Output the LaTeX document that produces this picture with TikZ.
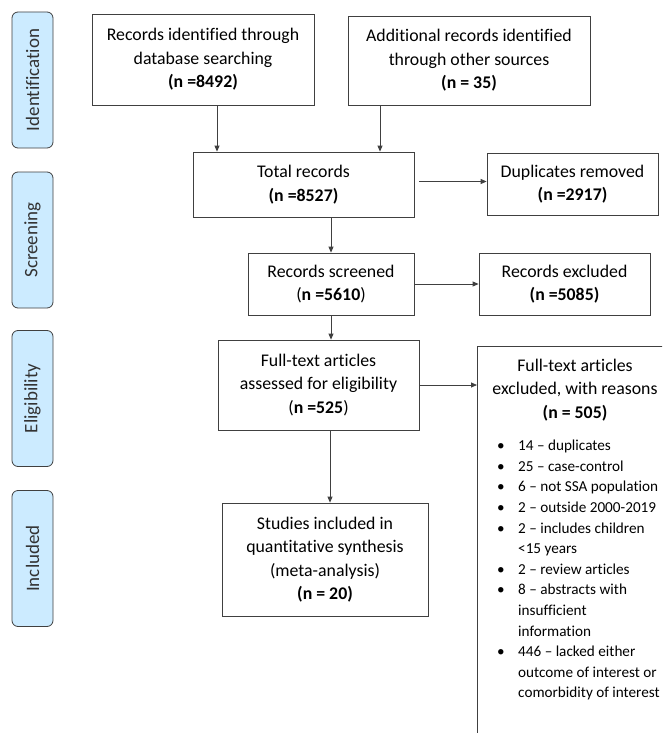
\documentclass[tikz,border=0pt]{standalone}
\usepackage{fontspec}
\setmainfont{Carlito}[Ligatures=NoCommon]
\usetikzlibrary{arrows.meta}
\definecolor{stagefill}{HTML}{CCEBFF}
\definecolor{linec}{HTML}{404040}
\newcommand\mainfs{\fontsize{17.8}{23.5}\selectfont}
\newcommand\listfs{\fontsize{15.2}{20.6}\selectfont}
\newcommand\stagefs{\fontsize{19}{22}\selectfont}
\begin{document}
\begin{tikzpicture}[x=1pt,y=-1pt,
  box/.style={draw=linec, line width=0.8pt, align=center, inner sep=0pt, font=\mainfs},
  stage/.style={draw=linec, fill=stagefill, rounded corners=6pt, rotate=90, minimum width=136pt, minimum height=41pt, inner sep=0pt, font=\stagefs, text=black!80, line width=0.8pt},
  arr/.style={-{Triangle[length=6pt,width=5pt]}, draw=linec, line width=0.8pt},
  edge line/.style={draw=linec, line width=0.8pt}]
\useasboundingbox (0,0) rectangle (662,733);
\fill[white] (0,0) rectangle (662,733);
\clip (0,0) rectangle (662,733);
% stage labels
\node[stage] (sid) at (32.5,80) {Identification};
\node[stage] (ssc) at (32.5,240) {Screening};
\node[stage] (sel) at (32.5,398.5) {Eligibility};
\node[stage] (sin) at (32.5,558.5) {Included};
% boxes
\node[box, minimum width=222, minimum height=91] (rid) at (203,59.5) {Records identified through\\database searching\\\textbf{(n =8492)}};
\node[box, minimum width=242, minimum height=89] (rot) at (469,60.5) {Additional records identified\\through other sources\\\textbf{(n = 35)}};
\node[box, minimum width=221, minimum height=65] (tot) at (303.5,184.5) {Total records\\\textbf{(n =8527)}};
\node[box, minimum width=171, minimum height=62] (dup) at (572.5,184) {Duplicates removed\\\textbf{(n =2917)}};
\node[box, minimum width=166, minimum height=62] (scr) at (331,284) {Records screened\\(\textbf{n =5610})};
\node[box, minimum width=171, minimum height=62] (exc) at (564.5,284) {Records excluded\\\textbf{(n =5085)}};
\node[box, minimum width=201, minimum height=90] (ft) at (318.5,385) {Full-text articles\\assessed for eligibility\\(\textbf{n =525})};
\node[box, minimum width=206, minimum height=113] (inc) at (325,559.5) {Studies included in\\quantitative synthesis\\(meta-analysis)\\\textbf{(n = 20)}};
% excluded-with-reasons box (extends past the page)
\node[inner sep=0pt, minimum width=200, minimum height=400, anchor=north west] (fte) at (477,346) {};
\draw[edge line] (fte.south west) -- (fte.north west) -- (fte.north east);
\node[align=center, font=\mainfs, inner sep=0pt] (fteh) at (575,390) {Full-text articles\\excluded, with reasons\\\textbf{(n = 505)}};
\node[anchor=north west, inner sep=0pt, font=\listfs] (ftel) at (497,436) {%
\begin{tabular}{@{}p{21pt}@{}l@{}}
\textbullet & 14 – duplicates\\
\textbullet & 25 – case-control\\
\textbullet & 6 – not SSA population\\
\textbullet & 2 – outside 2000-2019\\
\textbullet & 2 – includes children\\
 & <15 years\\
\textbullet & 2 – review articles\\
\textbullet & 8 – abstracts with\\
 & insufficient\\
 & information\\
\textbullet & 446 – lacked either\\
 & outcome of interest or\\
 & comorbidity of interest
\end{tabular}};
% arrows
\draw[arr] ([xshift=14pt]rid.south) -- ([xshift=14pt]rid.south |- tot.north);
\draw[arr] ([xshift=-89pt]rot.south) -- ([xshift=-89pt]rot.south |- tot.north);
\draw[arr] ([xshift=5pt,yshift=3pt]tot.east) -- ([yshift=3pt]tot.east -| dup.west);
\draw[arr] ([xshift=27.5pt]tot.south) -- (scr.north);
\draw[arr] (scr.east) -- (exc.west);
\draw[arr] (scr.south) -- ([xshift=12.5pt]ft.north);
\draw[arr] (ft.east) -- (ft.east -| fte.west);
\draw[arr] ([xshift=11.5pt]ft.south) -- ([xshift=11.5pt]ft.south |- inc.north);
\end{tikzpicture}
\end{document}
